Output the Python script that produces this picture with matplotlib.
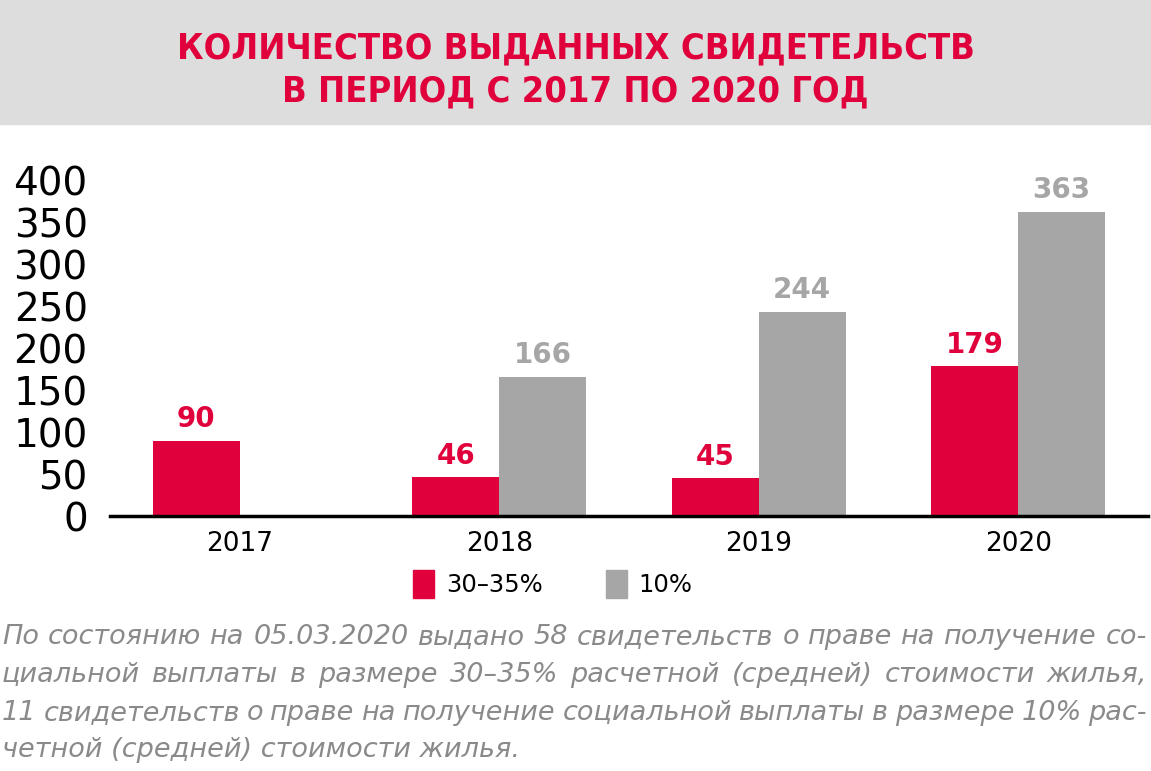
import matplotlib

matplotlib.use("Agg")
import matplotlib.pyplot as plt  # noqa: E402
from matplotlib import font_manager  # noqa: E402
from matplotlib.patches import Rectangle  # noqa: E402

RED = "#E0003C"
GRAY = "#A6A6A6"
BAND = "#DDDDDD"
NOTE = "#8A8A8A"

years = ["2017", "2018", "2019", "2020"]
share_30_35 = [90, 46, 45, 179]
share_10 = [None, 166, 244, 363]
legend_labels = ["30–35%", "10%"]
title_text = "КОЛИЧЕСТВО ВЫДАННЫХ СВИДЕТЕЛЬСТВ\nВ ПЕРИОД С 2017 ПО 2020 ГОД"
note_lines = [
    "По состоянию на 05.03.2020 выдано 58 свидетельств о праве на получение со-",
    "циальной выплаты в размере 30–35% расчетной (средней) стоимости жилья,",
    "11 свидетельств о праве на получение социальной выплаты в размере 10% рас-",
    "четной (средней) стоимости жилья.",
]

plt.rcParams["font.family"] = ["DejaVu Sans"]
cond = [f for f in font_manager.fontManager.ttflist
        if "DejaVu Sans" in f.name and f.stretch == "condensed"]
title_stretch = "condensed" if cond else "normal"

fig = plt.figure(figsize=(11.51, 7.71), dpi=100)

# Серая плашка с заголовком
fig.patches.append(Rectangle((0, 1 - 124 / 771), 1, 124 / 771, transform=fig.transFigure,
                             color=BAND, zorder=0))
fig.text(0.5, 1 - 70 / 771, title_text, ha="center", va="center", color=RED,
         fontsize=26 if cond else 24, fontweight="bold", fontstretch=title_stretch,
         linespacing=1.3)

ax = fig.add_axes([110 / 1151, 1 - 516 / 771, 1038 / 1151, 335 / 771])
x = list(range(len(years)))
w = 0.335
for i, (a, b) in enumerate(zip(share_30_35, share_10)):
    ax.bar(i - w / 2, a, width=w, color=RED)
    ax.text(i - w / 2, a + 9, str(a), ha="center", va="bottom", color=RED,
            fontsize=20, fontweight="bold")
    if b is None:
        continue
    ax.bar(i + w / 2, b, width=w, color=GRAY)
    ax.text(i + w / 2, b + 9, str(b), ha="center", va="bottom", color=GRAY,
            fontsize=20, fontweight="bold", clip_on=False)

ax.set_xlim(-0.5, 3.5)
ax.set_ylim(0, 400)
ax.set_yticks(range(0, 401, 50))
ax.set_xticks(x)
ax.set_xticklabels(years)
ax.tick_params(axis="y", length=0, labelsize=28, pad=16)
ax.tick_params(axis="x", length=0, labelsize=19, pad=11)
for side in ("top", "right", "left"):
    ax.spines[side].set_visible(False)
ax.spines["bottom"].set_linewidth(2.5)
ax.spines["bottom"].set_zorder(5)

# Легенда
handles = [Rectangle((0, 0), 1, 1, color=RED), Rectangle((0, 0), 1, 1, color=GRAY)]
fig.legend(handles, legend_labels, loc="center", bbox_to_anchor=(553 / 1151, 1 - 584 / 771),
           ncol=2, frameon=False, fontsize=17.5, handlelength=0.85, handleheight=1.35,
           handletextpad=0.5, columnspacing=2.6)

# Примечание, выровненное по ширине
fig.canvas.draw()
renderer = fig.canvas.get_renderer()
left, right = 2, 1147
ys = [637, 675, 713, 750]
fs = 19.5
for k, (line, y) in enumerate(zip(note_lines, ys)):
    yf = 1 - y / 771
    if k == len(note_lines) - 1:
        fig.text(left / 1151, yf, line, ha="left", va="center", color=NOTE,
                 fontsize=fs, style="italic")
        continue
    words = line.split(" ")
    arts = [fig.text(0, yf, wd, ha="left", va="center", color=NOTE, fontsize=fs,
                     style="italic") for wd in words]
    widths = [a.get_window_extent(renderer).width for a in arts]
    gap = (right - left - sum(widths)) / (len(words) - 1)
    pos = left
    for a, wdt in zip(arts, widths):
        a.set_x(pos / 1151)
        pos += wdt + gap

fig.savefig("out.png", dpi=100)
